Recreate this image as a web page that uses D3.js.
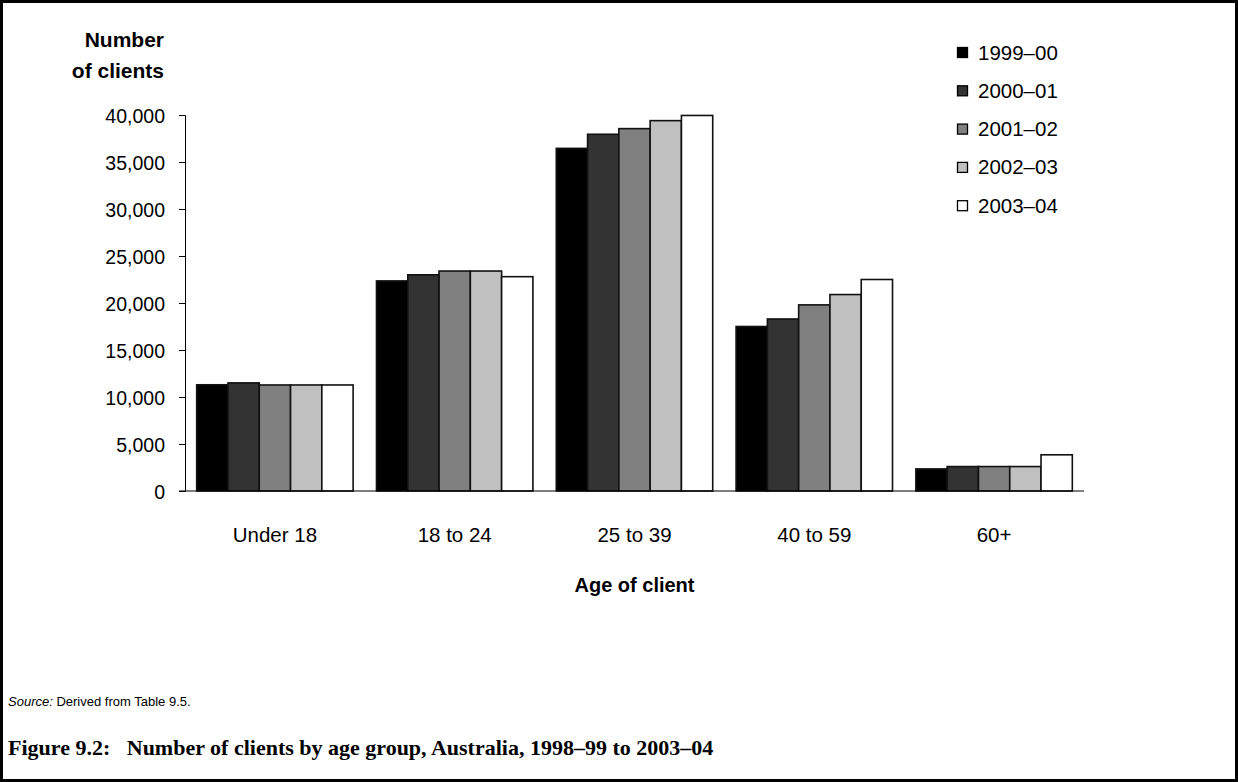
<!DOCTYPE html>
<html>
<head>
<meta charset="utf-8">
<script src="https://cdn.jsdelivr.net/npm/d3@7"></script>
<style>
  html, body { margin: 0; padding: 0; background: #fff; }
  svg { display: block; }
</style>
</head>
<body>
<svg id="chart" width="1238" height="782"></svg>
<script>
const categories = ["Under 18", "18 to 24", "25 to 39", "40 to 59", "60+"];
const seriesNames = ["1999\u201300", "2000\u201301", "2001\u201302", "2002\u201303", "2003\u201304"];
const seriesColors = ["#000000", "#333333", "#808080", "#c0c0c0", "#ffffff"];
const v1999_00 = [11300, 22350, 36450, 17500, 2350];
const v2000_01 = [11500, 23000, 37950, 18300, 2600];
const v2001_02 = [11280, 23400, 38550, 19800, 2600];
const v2002_03 = [11280, 23400, 39400, 20900, 2600];
const v2003_04 = [11280, 22800, 39950, 22500, 3850];
const yTicks = [0, 5000, 10000, 15000, 20000, 25000, 30000, 35000, 40000];

const seriesValues = [v1999_00, v2000_01, v2001_02, v2002_03, v2003_04];

const SANS = "'Liberation Sans', Arial, sans-serif";
const SERIF = "'Liberation Serif', 'Times New Roman', serif";

const svg = d3.select("#chart");
const W = 1238, H = 782;
const plot = { left: 185, right: 1084, top: 115, bottom: 491 };

// border
svg.append("rect").attr("x", 1.5).attr("y", 1.5).attr("width", W - 3).attr("height", H - 3)
  .attr("fill", "none").attr("stroke", "#000").attr("stroke-width", 3);

const x0 = d3.scaleBand().domain(categories).range([plot.left, plot.right]).paddingInner(0.13).paddingOuter(0.065);
const x1 = d3.scaleBand().domain(seriesNames).range([0, x0.bandwidth()]).padding(0);
const y = d3.scaleLinear().domain([0, 40000]).range([plot.bottom, plot.top]);

const fmt = d3.format(",");

// y axis
const yAxis = svg.append("g").attr("transform", `translate(${plot.left},0)`)
  .call(d3.axisLeft(y).tickValues(yTicks).tickSize(6).tickPadding(14).tickFormat(fmt));
yAxis.select(".domain").attr("stroke", "#000").attr("stroke-width", 1);
yAxis.selectAll(".tick line").attr("stroke", "#000");
yAxis.selectAll(".tick text").style("font-size", "19.5px").style("font-family", SANS).attr("fill", "#000").attr("dy", "0.4em");

// bars
const groups = svg.append("g").selectAll("g").data(categories).join("g")
  .attr("transform", d => `translate(${x0(d)},0)`);
groups.selectAll("rect").data((c, ci) => seriesNames.map((s, si) => ({ s, si, v: seriesValues[si][ci] })))
  .join("rect")
  .attr("x", d => x1(d.s))
  .attr("y", d => y(d.v))
  .attr("width", x1.bandwidth())
  .attr("height", d => y(0) - y(d.v))
  .attr("fill", d => seriesColors[d.si])
  .attr("stroke", "#111")
  .attr("stroke-width", 1.6);

// x axis
const xAxis = svg.append("g").attr("transform", `translate(0,${plot.bottom})`)
  .call(d3.axisBottom(x0).tickSize(0).tickPadding(36));
xAxis.select(".domain").attr("stroke", "#000").attr("stroke-width", 1.2)
  .attr("d", `M${plot.left - 6},0H${plot.right}`);
xAxis.selectAll(".tick text").style("font-size", "20.5px").style("font-family", SANS).attr("fill", "#000");

// axis titles
function label(x, yy, txt, size, anchor) {
  return svg.append("text").attr("x", x).attr("y", yy).attr("text-anchor", anchor)
    .style("font-family", SANS).style("font-size", size + "px").style("font-weight", "bold").text(txt);
}
label(164, 47, "Number", 21, "end");
label(164, 78, "of clients", 21, "end");
label((plot.left + plot.right) / 2, 592, "Age of client", 20, "middle");

// legend
const legend = svg.append("g").attr("transform", "translate(957,47)");
const lg = legend.selectAll("g").data(seriesNames).join("g")
  .attr("transform", (d, i) => `translate(0,${i * 38.3})`);
lg.append("rect").attr("x", 0.5).attr("y", 0.5).attr("width", 10).attr("height", 10)
  .attr("fill", (d, i) => seriesColors[i]).attr("stroke", "#000").attr("stroke-width", 1.3);
lg.append("text").attr("x", 21).attr("y", 12.5)
  .style("font-family", SANS).style("font-size", "20.5px").text(d => d);

// source
const src = svg.append("text").attr("x", 8).attr("y", 706)
  .style("font-family", SANS).style("font-size", "13px");
src.append("tspan").style("font-style", "italic").text("Source:");
src.append("tspan").text(" Derived from Table 9.5.");

// title
svg.append("text").attr("x", 8).attr("y", 755)
  .style("font-family", SERIF).style("font-size", "22px").style("font-weight", "bold")
  .style("white-space", "pre")
  .text("Figure 9.2:\u00a0\u00a0 Number of clients by age group, Australia, 1998\u201399 to 2003\u201304");
</script>
</body>
</html>
